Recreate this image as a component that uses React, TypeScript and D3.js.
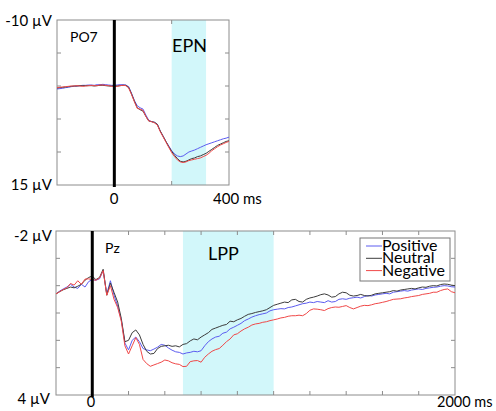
import React from "react";
import * as d3 from "d3";

// time grids (ms)
const po7Times = d3.range(-200, 401, 10);
const pzTimes = d3.range(-200, 2001, 20);

// PO7 (µV), sampled every 10 ms from -200 to 400
const po7Positive = [
  0.45, 0.4, 0.35, 0.25, 0.2, 0.1, 0.05, 0.0, -0.05, -0.1, -0.1, -0.15, -0.15, -0.1, -0.2, -0.2, -0.25, -0.2, -0.15, -0.1,
  -0.1, -0.15, -0.2, -0.2, -0.15, 0.1, 1.1, 2.2, 3.0, 3.3, 3.5, 4.4, 5.2, 5.4, 5.5, 5.8, 6.8, 7.6, 8.4, 9.1,
  9.8, 10.3, 10.6, 10.7, 10.6, 10.3, 10.0, 9.85, 9.7, 9.5, 9.3, 9.1, 8.9, 8.75, 8.6, 8.45, 8.3, 8.15, 8.0, 7.9, 7.75,
];
const po7Neutral = [
  0.3, 0.25, 0.2, 0.15, 0.1, 0.05, 0.0, 0.0, -0.05, -0.05, -0.05, -0.05, -0.05, 0.0, -0.05, -0.1, -0.1, -0.05, 0.0, 0.0,
  0.0, 0.0, -0.05, -0.1, -0.1, 0.2, 1.2, 2.3, 3.3, 3.6, 3.8, 4.6, 5.3, 5.4, 5.5, 5.8, 6.8, 7.6, 8.4, 9.2,
  9.9, 10.5, 11.0, 11.4, 11.5, 11.4, 11.2, 11.0, 10.9, 10.7, 10.6, 10.4, 10.2, 9.9, 9.6, 9.3, 9.0, 8.8, 8.6, 8.4, 8.3,
];
const po7Negative = [
  0.25, 0.2, 0.15, 0.1, 0.05, 0.0, 0.0, -0.05, 0.0, 0.05, 0.0, -0.05, -0.1, -0.05, -0.05, -0.15, -0.15, -0.1, -0.05, 0.05,
  0.1, 0.05, -0.05, -0.1, -0.05, 0.3, 1.3, 2.4, 3.4, 3.5, 3.7, 4.6, 5.3, 5.4, 5.6, 5.9, 6.9, 7.7, 8.5, 9.3,
  10.1, 10.7, 11.2, 11.5, 11.6, 11.5, 11.3, 11.2, 11.1, 11.0, 10.9, 10.7, 10.5, 10.2, 9.8, 9.5, 9.2, 8.95, 8.75, 8.55, 8.4,
];

// Pz (µV), sampled every 20 ms from -200 to 2000
const pzPositive = [
  0.3, 0.2, 0.12, 0.05, -0.05, 0.05, 0.1, -0.05, 0.05, -0.15,
  -0.22, -0.2, -0.25, -0.55, 0.3, -0.18, 0.35, 0.75, 1.25, 2.1,
  2.35, 2.0, 1.88, 2.05, 2.3, 2.35, 2.38, 2.32, 2.25, 2.15,
  2.18, 2.28, 2.36, 2.42, 2.44, 2.5, 2.46, 2.44, 2.4, 2.42,
  2.38, 2.2, 2.05, 1.95, 1.88, 1.85, 1.74, 1.7, 1.58, 1.52,
  1.45, 1.38, 1.28, 1.22, 1.15, 1.1, 1.06, 1.03, 1.0, 0.92,
  0.88, 0.86, 0.84, 0.85, 0.8, 0.78, 0.74, 0.7, 0.66, 0.64,
  0.6, 0.62, 0.58, 0.6, 0.62, 0.55, 0.6, 0.58, 0.5, 0.48,
  0.5, 0.46, 0.44, 0.42, 0.45, 0.4, 0.36, 0.38, 0.34, 0.32,
  0.3, 0.28, 0.3, 0.24, 0.22, 0.2, 0.18, 0.2, 0.16, 0.14,
  0.12, 0.14, 0.1, 0.08, 0.06, 0.05, 0.02, 0.0, 0.01, 0.04,
  0.05,
];
const pzNeutral = [
  0.3, 0.22, 0.15, 0.1, 0.05, 0.08, 0.02, -0.05, -0.2, -0.3,
  -0.35, -0.22, -0.3, -0.6, 0.35, -0.1, 0.25, 0.6, 1.2, 2.05,
  2.0, 1.72, 1.62, 1.8, 2.15, 2.4, 2.5, 2.48, 2.3, 2.22,
  2.2, 2.18, 2.22, 2.2, 2.24, 2.15, 2.12, 2.02, 1.95, 1.98,
  1.88, 1.8, 1.72, 1.6, 1.55, 1.5, 1.45, 1.42, 1.3, 1.32,
  1.25, 1.2, 1.12, 1.05, 1.02, 0.98, 0.95, 0.92, 0.88, 0.8,
  0.72, 0.68, 0.64, 0.6, 0.62, 0.52, 0.5, 0.58, 0.6, 0.5,
  0.45, 0.42, 0.38, 0.33, 0.3, 0.34, 0.42, 0.4, 0.3, 0.24,
  0.26, 0.35, 0.38, 0.36, 0.32, 0.36, 0.38, 0.35, 0.3, 0.28,
  0.26, 0.24, 0.22, 0.18, 0.2, 0.16, 0.14, 0.12, 0.1, 0.12,
  0.08, 0.05, 0.06, 0.02, 0.0, 0.01, -0.04, -0.06, -0.05, -0.02,
  0.0,
];
const pzNegative = [
  0.3, 0.22, 0.14, 0.08, -0.08, -0.02, -0.18, -0.05, -0.24, -0.25,
  -0.22, -0.2, -0.28, -0.55, 0.35, 0.0, 0.5, 0.8, 1.3, 2.2,
  2.5, 2.2, 1.9, 2.15, 2.7, 2.85, 2.95, 2.9, 2.85, 2.8,
  2.72, 2.75, 2.82, 2.86, 2.88, 2.96, 2.95, 2.78, 2.75, 2.74,
  2.8, 2.62, 2.5, 2.4, 2.34, 2.3, 2.18, 2.05, 1.95, 1.8,
  1.76, 1.66, 1.58, 1.52, 1.44, 1.4, 1.38, 1.34, 1.32, 1.28,
  1.25, 1.22, 1.18, 1.16, 1.12, 1.1, 1.1, 1.08, 1.1, 1.02,
  0.9, 0.85, 0.86, 0.88, 0.91, 0.84, 0.8, 0.78, 0.79, 0.76,
  0.73, 0.8, 0.85, 0.8, 0.75, 0.72, 0.73, 0.7, 0.66, 0.64,
  0.61, 0.58, 0.54, 0.5, 0.49, 0.48, 0.45, 0.43, 0.4, 0.38,
  0.36, 0.32, 0.3, 0.28, 0.24, 0.24, 0.18, 0.14, 0.12, 0.22,
  0.26,
];

const conditions = ["Positive", "Neutral", "Negative"];
const colors = ["#5c5cf0", "#3c3c3c", "#f04848"];

const FONT = "Lato, 'Open Sans', sans-serif";
const BOX = "#8c8c8c";

function Panel({ left, right, top, bottom, xDomain, yDomain, xStep, yStep, times, series, band }) {
  const x = d3.scaleLinear().domain(xDomain).range([left, right]);
  const y = d3.scaleLinear().domain(yDomain).range([top, bottom]);
  const xTicks = d3.range(xDomain[0] + xStep, xDomain[1], xStep);
  const yTicks = d3.range(yDomain[0] + yStep, yDomain[1], yStep);
  const line = (vals) =>
    d3
      .line()
      .x((_, i) => x(times[i]))
      .y((d) => y(d))(vals.slice(0, times.length));
  const tl = 4;
  return (
    <g>
      <rect x={x(band[0])} y={top} width={x(band[1]) - x(band[0])} height={bottom - top} fill="#d2f7fa" />
      {xTicks.map((t) => (
        <g key={"x" + t} stroke={BOX} strokeWidth={1}>
          <line x1={x(t)} x2={x(t)} y1={bottom} y2={bottom - tl} />
          <line x1={x(t)} x2={x(t)} y1={top} y2={top + tl} />
        </g>
      ))}
      {yTicks.map((v) => (
        <g key={"y" + v} stroke={BOX} strokeWidth={1}>
          <line x1={left} x2={left + tl} y1={y(v)} y2={y(v)} />
          <line x1={right} x2={right - tl} y1={y(v)} y2={y(v)} />
        </g>
      ))}
      <rect x={left} y={top} width={right - left} height={bottom - top} fill="none" stroke={BOX} strokeWidth={1} />
      {series.map((s, i) => (
        <path key={i} d={line(s)} fill="none" stroke={colors[i]} strokeWidth={1} />
      ))}
      <line x1={x(0)} x2={x(0)} y1={top} y2={bottom + 2} stroke="#000" strokeWidth={3} />
    </g>
  );
}

export default function App() {
  return (
    <svg
      width={496}
      height={411}
      style={{ position: "absolute", left: 0, top: 0, background: "#fff" }}
      fontFamily={FONT}
    >
      <Panel
        left={57}
        right={229}
        top={20}
        bottom={185}
        xDomain={[-200, 400]}
        yDomain={[-10, 15]}
        xStep={200}
        yStep={5}
        times={po7Times}
        series={[po7Positive, po7Neutral, po7Negative]}
        band={[200, 320]}
      />
      <text x={52} y={26} fontSize={15} textAnchor="end">-10 µV</text>
      <text x={52} y={190} fontSize={15} textAnchor="end">15 µV</text>
      <text x={114} y={204} fontSize={15} textAnchor="middle">0</text>
      <text x={213} y={204} fontSize={15}>400 ms</text>
      <text x={70} y={42} fontSize={14}>PO7</text>
      <text x={172} y={52} fontSize={18}>EPN</text>

      <Panel
        left={56}
        right={455}
        top={231}
        bottom={395}
        xDomain={[-200, 2000]}
        yDomain={[-2, 4]}
        xStep={200}
        yStep={1}
        times={pzTimes}
        series={[pzPositive, pzNeutral, pzNegative]}
        band={[500, 1000]}
      />
      <text x={52} y={241} fontSize={15} textAnchor="end">-2 µV</text>
      <text x={50} y={404} fontSize={15} textAnchor="end">4 µV</text>
      <text x={91} y={407} fontSize={14.5} textAnchor="middle">0</text>
      <text x={437} y={407} fontSize={14.5}>2000 ms</text>
      <text x={105} y={253} fontSize={14}>Pz</text>
      <text x={208} y={260} fontSize={18}>LPP</text>

      <g>
        <rect x={360} y={238} width={90} height={43} fill="#fff" stroke="#777" strokeWidth={1} />
        {conditions.map((c, i) => (
          <g key={c}>
            <line x1={366} x2={382} y1={246 + i * 12.3} y2={246 + i * 12.3} stroke={colors[i]} strokeWidth={1} />
            <text x={382} y={251 + i * 12.3} fontSize={16}>{c}</text>
          </g>
        ))}
      </g>
    </svg>
  );
}
